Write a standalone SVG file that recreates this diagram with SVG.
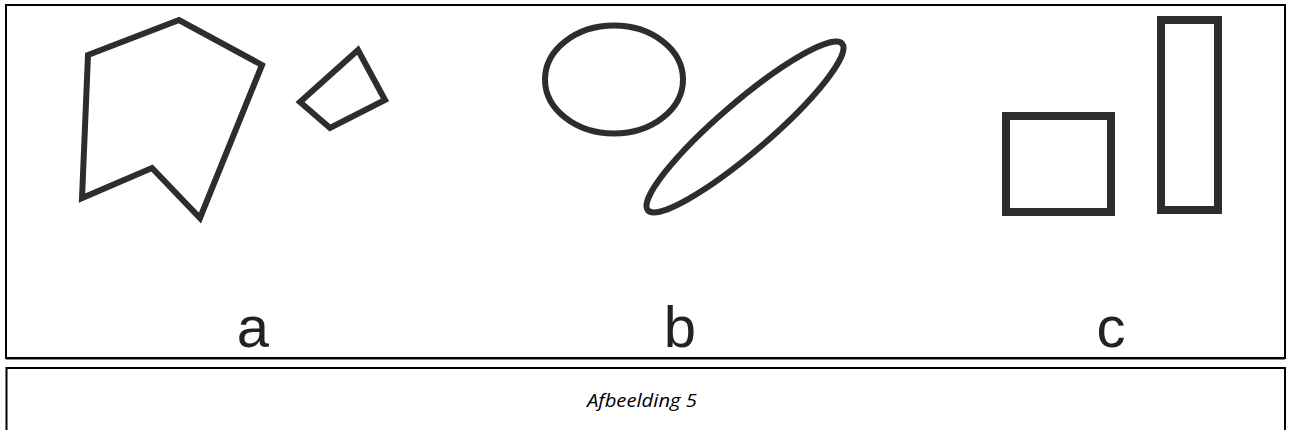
<svg xmlns="http://www.w3.org/2000/svg" width="1290" height="430" viewBox="0 0 1290 430">
<style>
.frame{fill:none;stroke:#000;stroke-width:2}
.shape{fill:none;stroke:#2a2f2c;stroke-width:6;stroke-linejoin:miter}
.rect{fill:none;stroke:#2a2f2c;stroke-width:8}
.lbl{font-family:"Liberation Sans",Arial,sans-serif;font-size:58px;fill:#222}
.cap{font-family:"Open Sans","Noto Sans",sans-serif;font-style:italic;font-size:19px;fill:#000}
</style>
<rect width="1290" height="430" fill="#fff"/>
<g id="frame-top"><rect class="frame" x="6" y="5" width="1279" height="353"/><line x1="6" y1="359.5" x2="1285" y2="359.5" stroke="#888" stroke-width="1"/></g>
<g id="frame-bottom"><rect class="frame" x="6.5" y="368" width="1278.5" height="70"/></g>
<g id="fig-a">
<polygon class="shape" points="88,55 179,20 262,65 200,218 152,168 82,198"/>
<polygon class="shape" points="300,102 358,50 385,100 330,128"/>
<text class="lbl" x="253" y="347" text-anchor="middle">a</text>
</g>
<g id="fig-b">
<ellipse class="shape" cx="614" cy="79.5" rx="69" ry="54"/>
<ellipse class="shape" cx="745" cy="127" rx="128" ry="25" transform="rotate(-40.6 745 127)"/>
<text class="lbl" x="680" y="347" text-anchor="middle">b</text>
</g>
<g id="fig-c">
<rect class="rect" x="1006" y="116" width="105" height="96"/>
<rect class="rect" x="1161" y="20" width="57" height="190"/>
<text class="lbl" x="1111" y="347" text-anchor="middle">c</text>
</g>
<g id="caption"><text class="cap" x="642" y="407" text-anchor="middle" textLength="110" lengthAdjust="spacingAndGlyphs">Afbeelding 5</text></g>
</svg>
